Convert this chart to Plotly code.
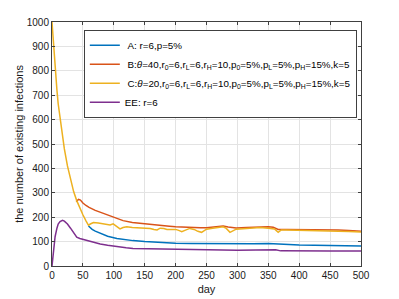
import plotly.graph_objects as go

# Series C (yellow)
c_days = [0,2,5,8,10,15,20,25,30,35,40,45,50,55,59,62,67,75,83,90,94,99,105,110,115,121,130,140,148,159,165,170,175,181,186,192,200,205,210,216,223,230,236,242,250,260,270,277,282,288,298,310,320,337,350,360,366,371,380,400,420,436,460,480,500]
c_vals = [1000,920,800,720,665,560,480,410,355,305,268,235,210,185,167,172,178,176,172,170,168,173,162,152,158,161,158,157,158,154,150,148,155,154,150,151,150,146,141,147,154,150,142,138,151,155,158,161,154,138,151,153,155,158,155,152,138,148,148,147,146,146,144,141,139]

# Series B (red)
b_days = [39,43,46,50,55,60,70,80,90,100,115,130,150,160,175,190,200,220,240,250,265,277,285,298,315,337,350,358,366,380,409,440,463,480,500]
b_vals = [264,273,270,258,248,240,228,218,208,198,186,178,172,170,165,163,161,158,157,157,160,164,160,156,158,161,161,159,150,150,150,149,148,146,142]

# Series A (blue)
a_days = [59,65,70,78,90,105,120,131,150,175,200,225,250,275,300,325,350,360,370,400,450,500]
a_vals = [164,150,143,134,122,113,107,104,100,96,93,92,91,90,91,91,92,91,87,86,84,82]

# Series EE (purple)
e_days = [0,2,5,8,10,13,17,20,25,30,35,40,45,51,60,70,78,90,105,120,131,150,175,200,225,250,280,300,330,350,362,370,400,450,500]
e_vals = [0,60,120,155,172,182,187,184,172,155,135,118,113,109,102,95,90,85,79,75,72,71,70,70,68,66,67,65,66,68,67,62,61,61,61]

names = [
    "\u00a0A: r=6,p=5%",
    "\u00a0B:<i>θ</i>=40,r<sub>0</sub>=6,r<sub>L</sub>=6,r<sub>H</sub>=10,p<sub>0</sub>=5%,p<sub>L</sub>=5%,p<sub>H</sub>=15%,k=5",
    "\u00a0C:<i>θ</i>=20,r<sub>0</sub>=6,r<sub>L</sub>=6,r<sub>H</sub>=10,p<sub>0</sub>=5%,p<sub>L</sub>=5%,p<sub>H</sub>=15%,k=5",
    "EE: r=6",
]
colors = ["#0072BD", "#D95319", "#EDB120", "#7E2F8E"]

fig = go.Figure()
for d, v, n, c in zip([a_days, b_days, c_days, e_days], [a_vals, b_vals, c_vals, e_vals], names, colors):
    fig.add_trace(go.Scatter(x=d, y=v, mode="lines", name=n, line=dict(color=c, width=1.5)))

FONT = "Liberation Sans, Arial"
axis_common = dict(
    showline=True, linecolor="#404040", linewidth=1, mirror="ticks",
    ticks="inside", ticklen=3, tickcolor="#404040",
    showgrid=True, gridcolor="#e3e3e3", gridwidth=1, zeroline=False,
    automargin=False,
    tickfont=dict(family=FONT, size=10, color="#1a1a1a"),
)
fig.update_xaxes(range=[0, 500], dtick=50, tick0=0,
                 title=dict(text="day", font=dict(family=FONT, size=11, color="#1a1a1a"), standoff=5),
                 **axis_common)
fig.update_yaxes(range=[0, 1000], dtick=100, tick0=0,
                 title=dict(text="the number of existing infections", font=dict(family=FONT, size=11, color="#1a1a1a"), standoff=0),
                 **axis_common)

fig.update_layout(
    width=399, height=299,
    margin=dict(l=52, r=38, t=22, b=33),
    paper_bgcolor="white", plot_bgcolor="white",
    showlegend=True,
    legend=dict(x=0.103, y=0.968, xanchor="left", yanchor="top",
                bgcolor="white", bordercolor="#404040", borderwidth=1,
                font=dict(family=FONT, size=9.8, color="#000000"),
                tracegroupgap=0, itemwidth=30),
)

fig.write_html("out.html", config={"displayModeBar": False},
               post_script="document.body.style.margin='0';document.body.style.overflow='hidden';")
